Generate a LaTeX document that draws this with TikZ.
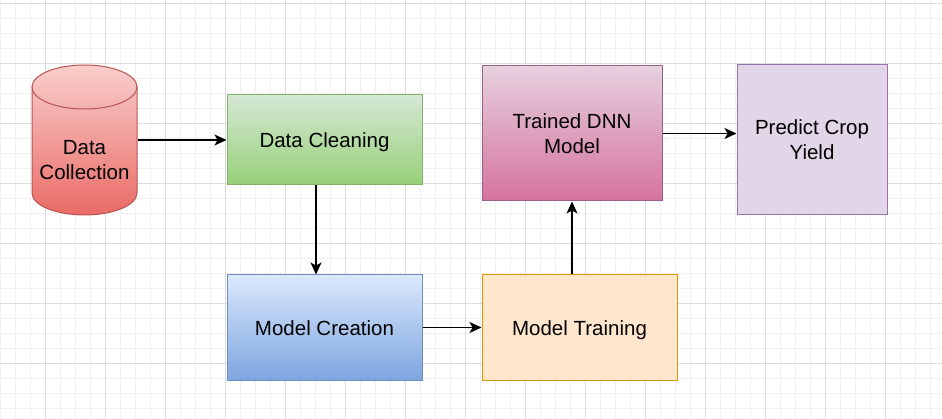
\documentclass[tikz,border=0pt]{standalone}
\usepackage{fontspec}
\setmainfont{Liberation Sans}
\usetikzlibrary{arrows.meta}
\definecolor{gminor}{HTML}{F0F0F0}
\definecolor{gmajor}{HTML}{DCDCDC}
\definecolor{redA}{HTML}{F8CECC}\definecolor{redB}{HTML}{EA6B66}\definecolor{redS}{HTML}{B85450}
\definecolor{grnA}{HTML}{D5E8D4}\definecolor{grnB}{HTML}{97D077}\definecolor{grnS}{HTML}{82B366}
\definecolor{bluA}{HTML}{DAE8FC}\definecolor{bluB}{HTML}{7EA6E0}\definecolor{bluS}{HTML}{6C8EBF}
\definecolor{orgF}{HTML}{FFE6CC}\definecolor{orgS}{HTML}{D79B00}
\definecolor{pnkA}{HTML}{E6D0DE}\definecolor{pnkB}{HTML}{D5739D}\definecolor{pnkS}{HTML}{996185}
\definecolor{purF}{HTML}{E1D5E7}\definecolor{purS}{HTML}{9673A6}
\begin{document}
\begin{tikzpicture}[x=1pt,y=-1pt,
  box/.style={rectangle, inner sep=0pt, line width=1pt, align=center,
    font=\fontsize{20.5}{25}\selectfont},
  oneline/.style={text height=17pt, text depth=1pt},
  conn/.style={line width=1.4pt, -{Stealth[length=12pt,width=11pt,inset=3pt]}}]
\fill[white] (0,0) rectangle (942,419);
\useasboundingbox (0,0) rectangle (942,419);
% grid
\foreach \x in {0,15,...,942} \draw[gminor, line width=0.8pt] (\x,0) -- (\x,419);
\foreach \y in {3,18,...,419} \draw[gminor, line width=0.8pt] (0,\y) -- (942,\y);
\foreach \x in {45,105,...,942} \draw[gmajor, line width=0.8pt] (\x,0) -- (\x,419);
\foreach \y in {3,63,...,419} \draw[gmajor, line width=0.8pt] (0,\y) -- (942,\y);
% cylinder
\shade[top color=redA, bottom color=redB]
  (32,87) -- (32,193) arc[start angle=180, end angle=360, x radius=52.5pt, y radius=22pt]
  -- (137,87) arc[start angle=0, end angle=180, x radius=52.5pt, y radius=22pt] -- cycle;
\draw[redS, line width=1pt]
  (32,87) -- (32,193) arc[start angle=180, end angle=360, x radius=52.5pt, y radius=22pt]
  -- (137,87);
\draw[redS, line width=1pt] (84.5,87) ellipse[x radius=52.5pt, y radius=22pt];
\node[box, minimum width=105pt, minimum height=150pt] (dc) at (84.5,140) {};
\node[box] (dctext) at (84.5,160.5) {Data\\Collection};
% boxes
\node[box, oneline, draw=grnS, top color=grnA, bottom color=grnB, minimum width=195pt, minimum height=90pt] (clean) at (324.5,140) {Data Cleaning};
\node[box, oneline, draw=bluS, top color=bluA, bottom color=bluB, minimum width=195pt, minimum height=105pt] (create) at (324.5,327.5) {Model Creation};
\node[box, oneline, draw=orgS, fill=orgF, minimum width=195pt, minimum height=105pt] (train) at (579.5,327.5) {Model Training};
\node[box, draw=pnkS, top color=pnkA, bottom color=pnkB, minimum width=180pt, minimum height=135pt] (dnn) at (572,133.5) {Trained DNN\\Model};
\node[box, draw=purS, fill=purF, minimum width=150pt, minimum height=150pt] (pred) at (812,140) {Predict Crop\\Yield};
% connectors
\draw[conn] (dc.east) -- (clean.west);
\draw[conn] ([xshift=-8.5pt]clean.south) -- ([xshift=-8.5pt]create.north);
\draw[conn] (create.east) -- (train.west);
\draw[conn] (train.north -| dnn.south) -- (dnn.south);
\draw[conn] (dnn.east) -- (dnn.east -| pred.west);
\end{tikzpicture}
\end{document}
